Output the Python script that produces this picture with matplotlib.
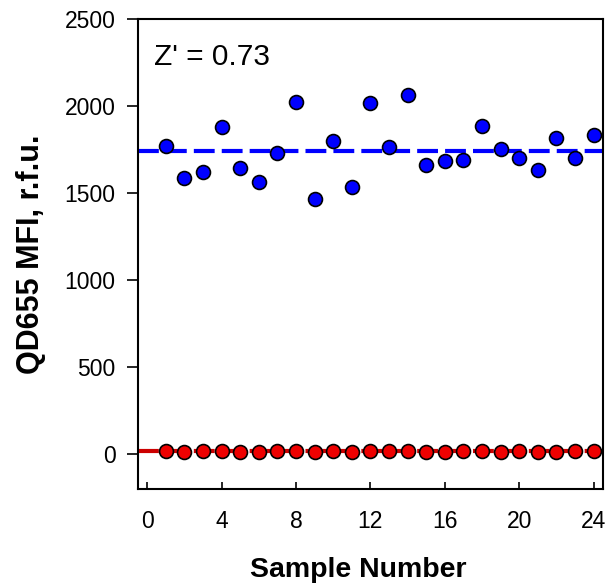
import matplotlib
matplotlib.use("Agg")
import matplotlib.pyplot as plt
import numpy as np

plt.rcParams["font.family"] = ["Liberation Sans", "DejaVu Sans"]

sampleNumber = list(range(1, 25))
positiveMFI = [1770, 1585, 1620, 1878, 1648, 1567, 1734, 2022, 1469, 1803, 1535, 2016,
               1765, 2062, 1665, 1688, 1690, 1884, 1757, 1700, 1636, 1815, 1702, 1832]
negativeMFI = [18, 16, 17, 18, 15, 16, 18, 17, 16, 18, 15, 17,
               18, 17, 16, 15, 17, 18, 16, 17, 15, 16, 18, 17]
zPrime = "Z' = 0.73"

fig = plt.figure(figsize=(6.1, 5.83), dpi=100)
ax = fig.add_axes([0.226, 0.161, 0.7625, 0.806])

posMean = np.mean(positiveMFI)
negMean = np.mean(negativeMFI)

ax.axhline(posMean, color="#0000ff", lw=3, ls=(0, (5, 1.7)), zorder=1)
ax.axhline(negMean, color="#cc0000", lw=3, ls=(0, (5, 1.7)), zorder=1)

ax.plot(sampleNumber, positiveMFI, "o", color="#0000ff", mec="black", mew=1.2, ms=10, zorder=3)
ax.plot(sampleNumber, negativeMFI, "o", color="#ee0000", mec="black", mew=1.2, ms=10, zorder=3)

ax.set_xlim(-0.5, 24.5)
ax.set_ylim(-200, 2500)
ax.set_xticks(range(0, 25, 4))
ax.set_yticks(range(0, 2501, 500))
ax.tick_params(axis="x", direction="in", labelsize=16.5, pad=15, length=5, width=1.2)
ax.tick_params(axis="y", direction="out", labelsize=16.5, pad=8, length=8, width=1.2)

ax.set_xlabel("Sample Number", fontsize=20.5, fontweight="bold")
ax.set_ylabel("QD655 MFI, r.f.u.", fontsize=22, fontweight="bold")
ax.xaxis.label.set_va("baseline")
ax.xaxis.set_label_coords(0.474, -0.187)
ax.yaxis.set_label_coords(-0.198, 0.5)

ax.text(0.035, 0.902, zPrime, transform=ax.transAxes, fontsize=21.5, va="baseline", ha="left")

for s in ax.spines.values():
    s.set_linewidth(1.5)

fig.savefig("out.png", dpi=100)
